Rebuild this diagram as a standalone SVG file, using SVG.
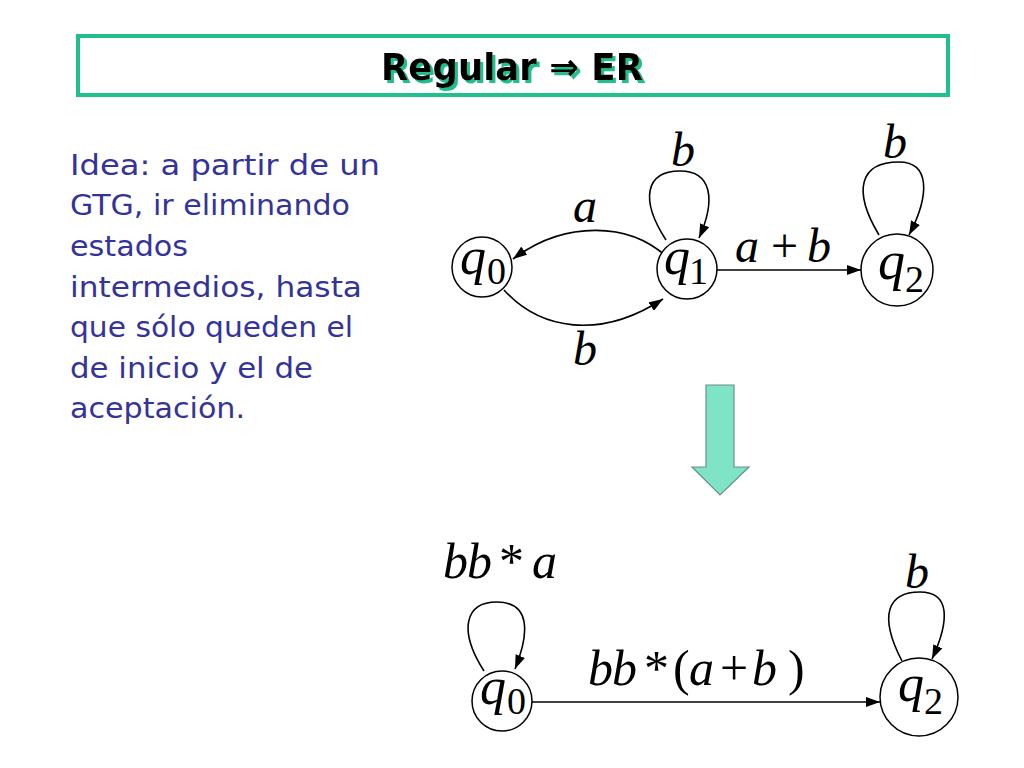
<svg xmlns="http://www.w3.org/2000/svg" width="1024" height="768" viewBox="0 0 1024 768">
<defs>
<marker id="ah" viewBox="0 0 14 10" markerWidth="14" markerHeight="10" refX="14" refY="5" orient="auto" markerUnits="userSpaceOnUse">
<path d="M0,0 L14,5 L0,10 z" fill="#000"/>
</marker>
<filter id="shadow" x="-10%" y="-20%" width="120%" height="150%">
<feDropShadow dx="3" dy="3" stdDeviation="0" flood-color="#22bf8e" flood-opacity="1"/>
</filter>
<style>
.node{fill:#fff;stroke:#000;stroke-width:1.5}
.edge{fill:none;stroke:#000;stroke-width:1.6;marker-end:url(#ah)}
.m{font-family:"Liberation Serif","Times New Roman",serif;font-style:italic;fill:#000}
.r{font-family:"Liberation Serif","Times New Roman",serif;fill:#000}
.body{font-family:"DejaVu Sans","Noto Sans",sans-serif;font-size:28px;fill:#333399}
.title{font-family:"DejaVu Sans","Noto Sans",sans-serif;font-weight:bold;font-size:38px}
</style>
</defs>
<rect width="1024" height="768" fill="#fff"/>

<g id="title">
<rect x="78" y="36" width="870" height="59" fill="#fff" stroke="#22bf8e" stroke-width="4"/>
<text class="title" x="512" y="80" text-anchor="middle" fill="#000" filter="url(#shadow)" textLength="262" lengthAdjust="spacingAndGlyphs">Regular ⇒ ER</text>
</g>

<g id="description">
<text class="body" x="70" y="175" textLength="310" lengthAdjust="spacingAndGlyphs">Idea: a partir de un</text>
<text class="body" x="70" y="215" textLength="280" lengthAdjust="spacingAndGlyphs">GTG, ir eliminando</text>
<text class="body" x="70" y="256" textLength="118" lengthAdjust="spacingAndGlyphs">estados</text>
<text class="body" x="70" y="297" textLength="292" lengthAdjust="spacingAndGlyphs">intermedios, hasta</text>
<text class="body" x="70" y="337" textLength="283" lengthAdjust="spacingAndGlyphs">que sólo queden el</text>
<text class="body" x="70" y="378" textLength="243" lengthAdjust="spacingAndGlyphs">de inicio y el de</text>
<text class="body" x="70" y="418" textLength="175" lengthAdjust="spacingAndGlyphs">aceptación.</text>
</g>

<g id="connectors">
<path class="edge" d="M666,240 C640,200 645,171 680,171 C712,171 716,200 699,238"/>
<path class="edge" d="M879,235 C852,190 860,162 899,162 C930,162 930,195 909,235"/>
<path class="edge" d="M668,258 C630,222 565,220 513,259"/>
<path class="edge" d="M504,290 C540,330 600,340 663,299"/>
<path class="edge" d="M717,270 L861,270"/>
<path class="edge" d="M484,671 C458,630 465,602 497,602 C530,602 530,632 515,669"/>
<path class="edge" d="M902,661 C878,615 888,592 920,592 C950,592 950,620 932,659"/>
<path class="edge" d="M532,702 L880,702"/>
<text class="m" x="573" y="222" font-size="48">a</text>
<text class="m" x="573" y="365" font-size="48">b</text>
<text class="m" x="671" y="166" font-size="48">b</text>
<text class="m" x="883" y="158" font-size="48">b</text>
<text class="m" x="735" y="262" font-size="48">a</text>
<text class="r" x="771" y="262" font-size="48">+</text>
<text class="m" x="807" y="262" font-size="48">b</text>
<text class="m" x="905" y="588" font-size="48">b</text>
<text class="m" x="443" y="578" font-size="50">b</text>
<text class="m" x="467" y="578" font-size="50">b</text>
<text class="r" x="499" y="578" font-size="50">*</text>
<text class="m" x="532" y="578" font-size="50">a</text>
<text class="m" x="588" y="685" font-size="50">b</text>
<text class="m" x="612" y="685" font-size="50">b</text>
<text class="r" x="644" y="685" font-size="50">*</text>
<text class="r" x="673" y="685" font-size="50">(</text>
<text class="m" x="689" y="685" font-size="50">a</text>
<text class="r" x="720" y="685" font-size="50">+</text>
<text class="m" x="752" y="685" font-size="50">b</text>
<text class="r" x="788" y="685" font-size="50">)</text>
</g>

<g id="top-q0">
<circle class="node" cx="482" cy="267" r="30"/>
<text class="m" x="460" y="274" font-size="52">q</text>
<text class="r" x="487" y="284" font-size="38">0</text>
</g>
<g id="top-q1">
<circle class="node" cx="687" cy="269" r="30"/>
<text class="m" x="664" y="274" font-size="52">q</text>
<text class="r" x="689" y="284" font-size="38">1</text>
</g>
<g id="top-q2">
<circle class="node" cx="897" cy="270" r="36"/>
<text class="m" x="878" y="279" font-size="54">q</text>
<text class="r" x="905" y="292" font-size="38">2</text>
</g>

<g id="arrow-down">
<polygon points="706,385 734,385 734,467 749,467 720,495 692,467 706,467" fill="#7fe3c6" stroke="#6b8f86" stroke-width="1.2"/>
</g>

<g id="bottom-q0">
<circle class="node" cx="502" cy="701" r="30"/>
<text class="m" x="480" y="704" font-size="52">q</text>
<text class="r" x="507" y="714" font-size="38">0</text>
</g>
<g id="bottom-q2">
<circle class="node" cx="919" cy="697" r="39"/>
<text class="m" x="898" y="701" font-size="52">q</text>
<text class="r" x="924" y="714" font-size="38">2</text>
</g>
</svg>
